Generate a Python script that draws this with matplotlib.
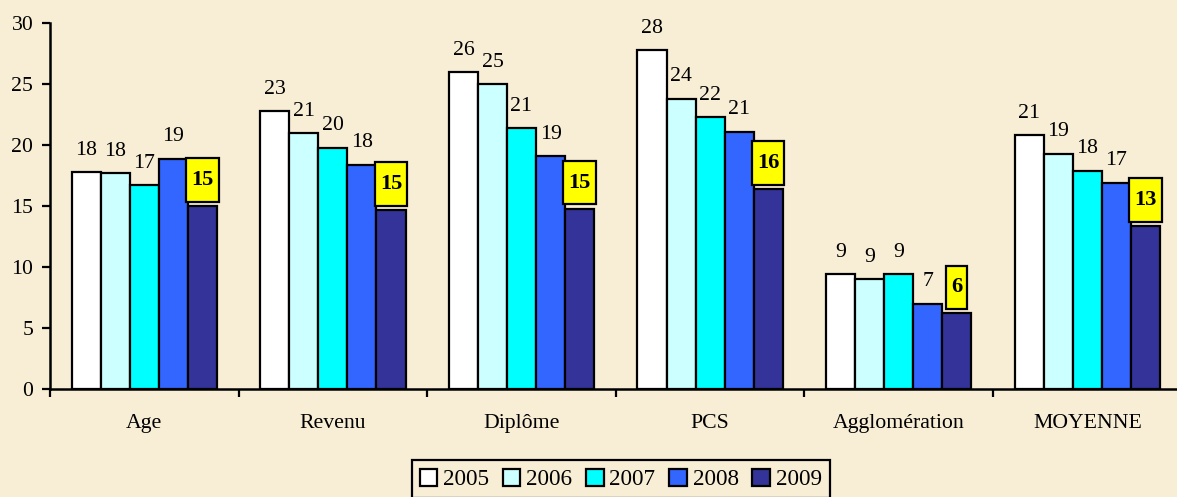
import matplotlib.pyplot as plt
import numpy as np

categories = ["Age", "Revenu", "Diplôme", "PCS", "Agglomération", "MOYENNE"]
years = ["2005", "2006", "2007", "2008", "2009"]
v2005 = [17.8, 22.8, 26.0, 27.8, 9.4, 20.8]
v2006 = [17.7, 21.0, 25.0, 23.8, 9.0, 19.3]
v2007 = [16.7, 19.8, 21.4, 22.3, 9.4, 17.9]
v2008 = [18.9, 18.4, 19.1, 21.1, 7.0, 16.9]
v2009 = [15.0, 14.7, 14.8, 16.4, 6.2, 13.4]

series = [v2005, v2006, v2007, v2008, v2009]
colors = ["#FFFFFF", "#CCFFFF", "#00FFFF", "#3366FF", "#333399"]
bg = "#F8EDD5"

plt.rcParams["font.family"] = ["Liberation Serif", "DejaVu Serif"]

fig = plt.figure(figsize=(11.77, 4.97), dpi=100, facecolor=bg)
ax = fig.add_axes([50 / 1177, 108 / 497, 1131.6 / 1177, 365.7 / 497])
ax.set_facecolor("none")

x = np.arange(len(categories))
w = 0.154
for i, vals in enumerate(series):
    pos = x + (i - 2) * w
    ax.bar(pos, vals, w, color=colors[i], edgecolor="black", linewidth=1.6,
           label=years[i], zorder=3)
    for px, v in zip(pos, vals):
        if i < 4:
            ax.annotate(f"{v:.0f}", (px, v), xytext=(0, 22),
                        textcoords="offset pixels", ha="center", va="center",
                        fontsize=15.7, zorder=4)
        else:
            # 2009 values highlighted in a yellow box above the bar
            ax.annotate(f"{v:.0f}", (px, v), xytext=(0, 26),
                        textcoords="offset pixels", ha="center", va="center",
                        fontsize=16.2, fontweight="bold", zorder=4,
                        bbox=dict(boxstyle="square,pad=0.22", fc="#FFFF00",
                                  ec="black", lw=1.6, mutation_aspect=2.4))

ax.set_xlim(-0.5, 5.5)
ax.set_ylim(0, 30)
ax.set_yticks(range(0, 31, 5))
ax.set_xticks(x)
ax.set_xticklabels(categories)
ax.set_xticks(np.arange(-0.5, 6.0, 1), minor=True)
ax.tick_params(axis="x", which="major", length=0, pad=18, labelsize=15.7)
ax.tick_params(axis="x", which="minor", length=6, width=1.6, direction="out")
ax.tick_params(axis="y", length=6, width=1.6, pad=6, labelsize=15.7)
for s in ["top", "right"]:
    ax.spines[s].set_visible(False)
for s in ["left", "bottom"]:
    ax.spines[s].set_linewidth(1.8)
    ax.spines[s].set_zorder(5)

leg = fig.legend(loc="upper center", bbox_to_anchor=(0.5275, 0.0735), ncol=5,
                 fontsize=16.7, handlelength=0.75, handleheight=0.75,
                 handletextpad=0.25, columnspacing=0.6, borderpad=0.35,
                 borderaxespad=0, fancybox=False, framealpha=1,
                 facecolor=bg, edgecolor="black")
leg.get_frame().set_linewidth(1.6)

plt.savefig("out.png", dpi=100, facecolor=bg)
